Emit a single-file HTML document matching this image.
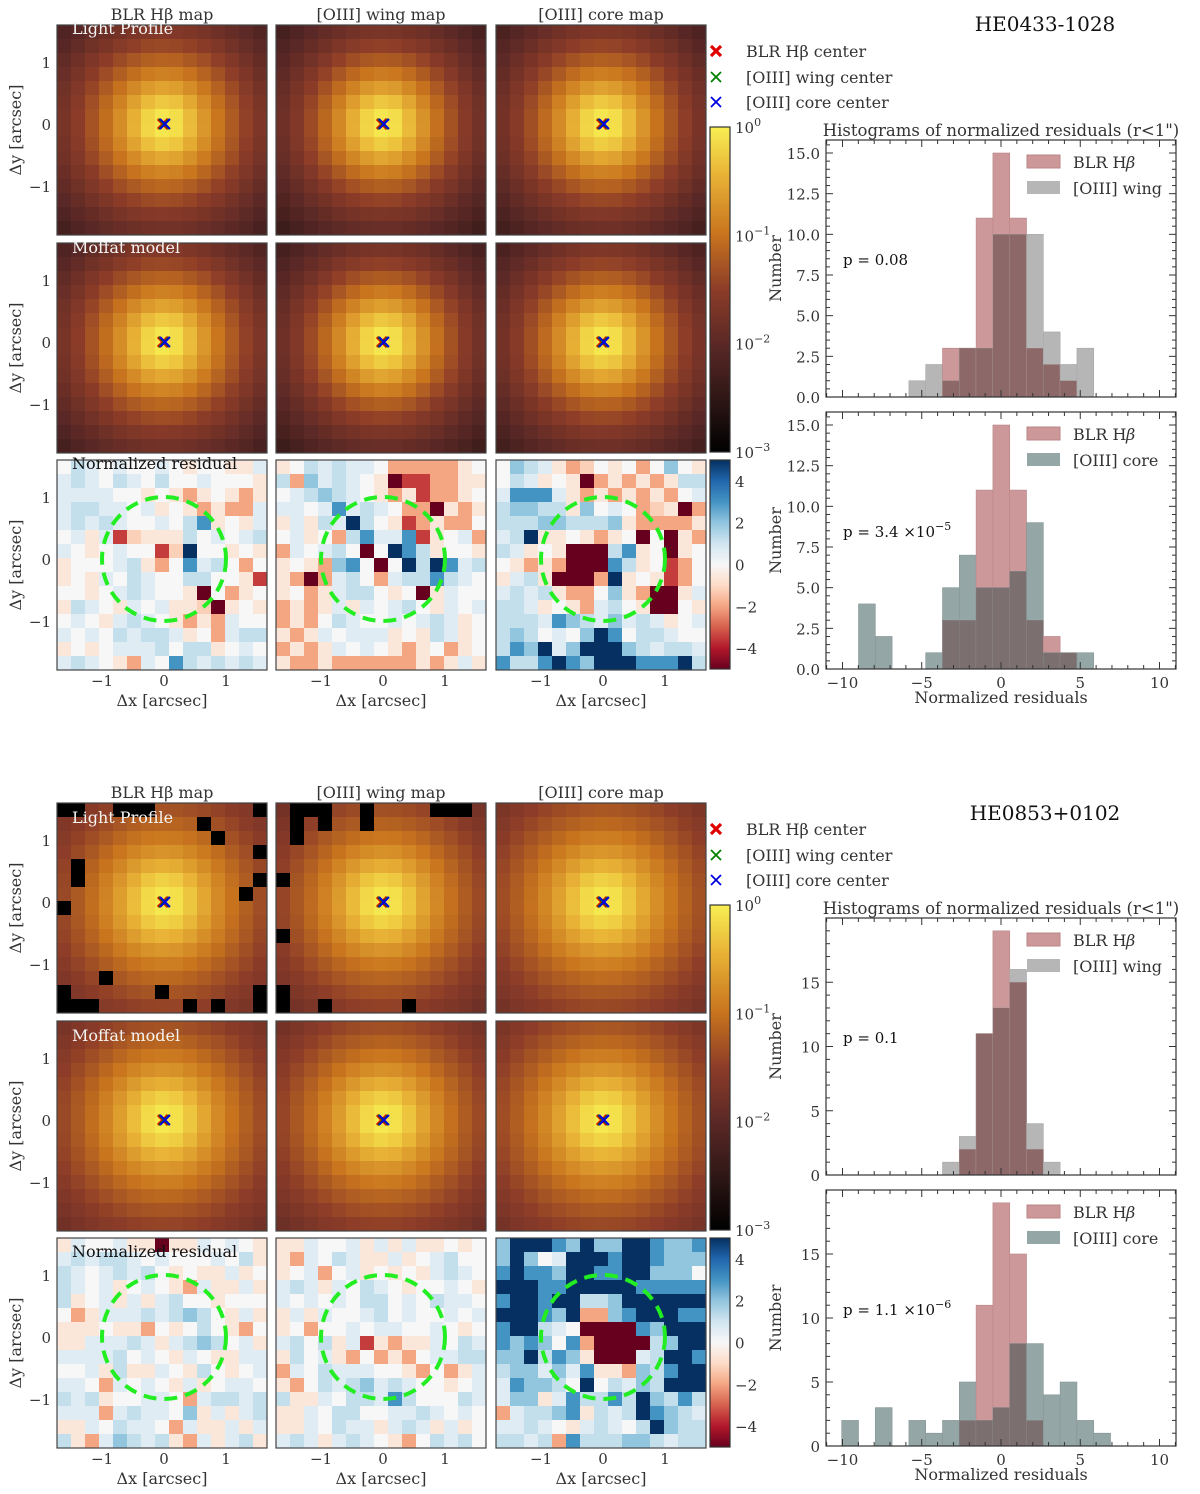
<!DOCTYPE html>
<html><head><meta charset="utf-8">
<style>
html,body{margin:0;padding:0;background:#fff;}
svg{display:block;font-family:"DejaVu Serif","Liberation Serif",serif;}
</style></head>
<body>
<svg id="fig" width="1200" height="1494" viewBox="0 0 1200 1494" xmlns="http://www.w3.org/2000/svg">
<defs>
<linearGradient id="lgLight" x1="0" y1="1" x2="0" y2="0">
<stop offset="0" stop-color="#000000"/><stop offset="0.15" stop-color="#2a1514"/><stop offset="0.33" stop-color="#5a2826"/><stop offset="0.5" stop-color="#8c3c28"/><stop offset="0.67" stop-color="#c8741e"/><stop offset="0.85" stop-color="#e8b236"/><stop offset="1" stop-color="#f8ee52"/>
</linearGradient>
<linearGradient id="lgRes" x1="0" y1="1" x2="0" y2="0">
<stop offset="0" stop-color="#67001f"/><stop offset="0.1" stop-color="#b2182b"/><stop offset="0.2" stop-color="#d6604d"/><stop offset="0.3" stop-color="#f4a582"/><stop offset="0.4" stop-color="#fddbc7"/><stop offset="0.5" stop-color="#f7f7f7"/><stop offset="0.6" stop-color="#d1e5f0"/><stop offset="0.7" stop-color="#92c5de"/><stop offset="0.8" stop-color="#4393c3"/><stop offset="0.9" stop-color="#2166ac"/><stop offset="1" stop-color="#053061"/>
</linearGradient>
</defs>
</svg>
<script>
// ---------------- DATA ----------------
const profTopBLR  = [0,-0.12,-0.40,-0.72,-1.00,-1.25,-1.48,-1.68,-1.86,-2.02,-2.18,-2.35];
const profTopWing = [0,-0.12,-0.42,-0.76,-1.06,-1.33,-1.57,-1.78,-1.96,-2.12,-2.28,-2.45];
const profTopCore = [0,-0.12,-0.41,-0.74,-1.03,-1.29,-1.52,-1.72,-1.90,-2.06,-2.22,-2.38];
const profBotBLR  = [0,-0.10,-0.32,-0.58,-0.82,-1.02,-1.20,-1.36,-1.50,-1.62,-1.74,-1.85];
const profBotWing = [0,-0.10,-0.33,-0.60,-0.84,-1.05,-1.23,-1.39,-1.53,-1.66,-1.78,-1.90];
const profBotCore = [0,-0.10,-0.31,-0.56,-0.79,-0.99,-1.17,-1.32,-1.46,-1.58,-1.70,-1.82];
const blackBotBLR  = [[0,0],[0,1],[0,4],[0,5],[0,6],[0,14],[1,10],[2,11],[3,14],[4,1],[5,1],[5,14],[6,13],[7,0],[12,3],[13,0],[13,7],[13,14],[14,0],[14,1],[14,2],[14,9],[14,11],[14,14]];
const blackBotWing = [[0,1],[0,2],[0,3],[0,6],[0,11],[0,12],[0,13],[1,1],[1,3],[1,6],[2,1],[5,0],[9,0],[13,0],[14,0],[14,3],[14,9]];
const resTopBLR = [".b+.+..+.-..--+","+b+.b+.b..+...-","++++..-.-o-.-o-","+bb++.+-.-o-oo+","+b+b+..+.bB-.-+",".+-+rp---b.+.+b","+.-.+..rpN..-.-","-...+b-o.B+b.o.","-.-+.b+..bb..-r","..-.+b+..-R.o-.","-b+.-+.+--pR-.-",".+.-+b+.-o-o+..","+.+.b+bb+-.o+bb","-.-.+++b.bb-.+.","+b+.-o+.Bb+b+b+"];
const resTopWing = ["-.b+b++.ooooo-.","boc+b+.-Rrroo--",".+bcb+.-o-roo-.","++.+B+b+.ooR-o-","-+-b+Nb.-ro-oo.",".+-.obB++Br-.+o","o+.+b.R.NBb-..-","-.-ocB.R.NbNB+b","-oRo+b.o+bbBb+.","-.o-+bb.-.R-+..","o-o-+-+.+b.-+.+","o-o.b+..+.+b+-.","-o-+.+++-.-b+-.","o-o-+.+.-o-.o-.","-oo-oooooo-o-+-"];
const resTopCore = [".cb+-op.-.o.c.-",".b+-.-Ro-o-o-bb","+BBB+-o-o-o-o.+","bccbb-c.+.op-Ro","bbbccbbbc-oooo-","+bN--.-o-.R.R-o","b+-.-RRRbB-.R-.",".-o-oRRRBb-.ro.","-+b-RRRoN-.-ro.","+b+b-oo.c-oRR-+","bb+-.-o+b.-RR.-","bbb+Bcb+c+b+-.+","bcb.+.cNB.bb+..","bBcN+cNNNcb+bb+","BbbBNBcNNNBBBNb"];
const resBotBLR = ["-+..+--R--+.+.-","+b+bb+.+...+.b-","b+.+b+b.-.--+-.","b+.+-.+.-o+--+-","b-.+-+-+b..-...",".o-+++b+bcb.-+-","---.--o.-.b.-o.","--+++b+-+bcb.+-","++++b.+.-+.--++","..+-b--+.-b.-.+","++.o+.+.-+-.++.","b+b-..++.o+bb+b","+++o+b++.c-+-+b","--+.b++.o+--+-+","b-o+cb+b-o+-+b-"];
const resBotWing = ["--+..+-+-+--.-.","-o+.b+--+-.+b..","-.+o.+-.-.-+b+.","+b+-+.b+.-..+.-","+.+.+.bb.+.b++.","-+-+..+b.+..+.+","-.o..+.++..+.-.","+b.b-+r-o--+.b+","-b.+-o.o-o.++bb","o+.b+++..-o.o-+","-o.b+bc+b+..-.+","b--+.bb+Bb...b+","--+.bb..++b+.+.","--+.b++-+b+-+-.","+b+-+b+.-o.b+b."];
const resBotCore = ["cNNNBcNccNNBccB","cNc.+NNNBNNBccc","BNBBcNNBBNNccc.","NNNBBNNNNNBBBBB","BNNBNNbbcNNNNNN","NNNBcNoocBNNNBB","BNNb+.RRRRBcNNN","BcBc.BoRRRRbcNN","ccNbBc-RRR+bNNB","bcc+c+B--ocbBNN","+Bccb.N.b+cbNNN","+cc-+BbbBbNcbBb","o+bbcB-b+bNBcb+","++b+.-+b+.bNcbb","bb+boBbbbccb+bb"];
const histBLR1  = [0,0,0,0,0,0,3,3,11,15,11,3,2,1,0,0,0,0,0,0];
const histWing1 = [0,0,0,0,1,2,1,3,3,10,10,10,4,2,3,0,0,0,0,0];
const histBLR2  = [0,0,0,0,0,0,3,3,11,15,11,3,2,1,0,0,0,0,0,0];
const histCore2 = [0,4,2,0,0,1,5,7,5,5,6,9,1,1,1,0,0,0,0,0];
const histBLR3  = [0,0,0,0,0,0,0,2,11,19,15,2,0,0,0,0,0,0,0,0];
const histWing3 = [0,0,0,0,0,0,1,3,11,13,16,4,1,0,0,0,0,0,0,0];
const histBLR4  = [0,0,0,0,0,0,0,2,11,19,15,2,0,0,0,0,0,0,0,0];
const histCore4 = [2,0,3,0,2,1,2,5,2,3,8,8,4,5,2,1,0,0,0,0];
const yTicksTop = ["0.0","2.5","5.0","7.5","10.0","12.5","15.0"];
const yTicksBot = ["0","5","10","15"];
const xTicksHist = ["−10","−5","0","5","10"];
const cbarLightLabels = ["0","−1","−2","−3"];
const cbarResLabels = ["4","2","0","−2","−4"];

// ---------------- RENDER ----------------
const NS="http://www.w3.org/2000/svg";
const svg=document.getElementById('fig');
function mk(tag,attrs,parent){const e=document.createElementNS(NS,tag);for(const k in attrs)e.setAttribute(k,attrs[k]);(parent||svg).appendChild(e);return e;}
function txt(s,x,y,size,anchor,parent,fill){const t=mk('text',{x:x,y:y,'font-size':size,'text-anchor':anchor||'start',fill:fill||'#333'},parent);t.textContent=s;return t;}
function hex(c){return [parseInt(c.substr(1,2),16),parseInt(c.substr(3,2),16),parseInt(c.substr(5,2),16)];}
function interp(stops,t){t=Math.max(0,Math.min(1,t));for(let i=1;i<stops.length;i++){if(t<=stops[i][0]){const a=stops[i-1],b=stops[i];const f=(t-a[0])/(b[0]-a[0]);const ca=hex(a[1]),cb=hex(b[1]);return 'rgb('+ca.map((v,j)=>Math.round(v+(cb[j]-v)*f)).join(',')+')';}}return stops[stops.length-1][1];}
const lightStops=[[0,'#000000'],[0.15,'#2a1514'],[0.33,'#5a2826'],[0.5,'#8c3c28'],[0.67,'#c8741e'],[0.85,'#e8b236'],[1,'#f8ee52']];
const resStops=[[0,'#67001f'],[0.1,'#b2182b'],[0.2,'#d6604d'],[0.3,'#f4a582'],[0.4,'#fddbc7'],[0.5,'#f7f7f7'],[0.6,'#d1e5f0'],[0.7,'#92c5de'],[0.8,'#4393c3'],[0.9,'#2166ac'],[1,'#053061']];
const resVal={'R':-5,'r':-3.5,'o':-2,'p':-1.2,'-':-0.6,'.':0,'+':0.6,'b':1.2,'c':2,'B':3,'N':5};

const colX=[57,276,496], PW=210, PH=210, NC=15, CS=14;
const rowY=[25,243,460];
const CX=107, CY=99, PXA=62;

function profVal(prof,r){const i=Math.floor(r);if(i>=prof.length-1)return prof[prof.length-1]+(r-(prof.length-1))*(prof[prof.length-1]-prof[prof.length-2]);const f=r-i;return prof[i]+(prof[i+1]-prof[i])*f;}

function lightMap(x0,y0,prof,blacks,name){
  const g=mk('g',{});
  
  
  const bset=new Set((blacks||[]).map(b=>b[0]+'_'+b[1]));
  for(let r=0;r<NC;r++)for(let c=0;c<NC;c++){
    const dx=(c*CS+CS/2-CX)/CS, dy=(r*CS+CS/2-CY)/CS;
    const lv=profVal(prof,Math.sqrt(dx*dx+dy*dy));
    const col=bset.has(r+'_'+c)?'#000':interp(lightStops,(lv+3)/3);
    const cell=mk('rect',{x:x0+c*CS,y:y0+r*CS,width:CS+0.5,height:CS+0.5,fill:col},g);
    
    
  }
  mk('rect',{x:x0,y:y0,width:PW,height:PH,fill:'none',stroke:'#444','stroke-width':1.2},g);
  const mx=x0+CX, my=y0+CY;
  [['#e00000',3],['#008000',2],['#0000e0',2]].forEach((m,i)=>{
    const o=[-1,0,1][i];
    const p=mk('path',{d:`M${mx-5+o} ${my-5}L${mx+5+o} ${my+5}M${mx+5+o} ${my-5}L${mx-5+o} ${my+5}`,stroke:m[0],'stroke-width':m[1]},g);
    
    
  });
  return g;
}
function resMap(x0,y0,rows,name){
  const g=mk('g',{});
  
  
  for(let r=0;r<NC;r++)for(let c=0;c<NC;c++){
    const v=resVal[rows[r][c]]||0;
    const cell=mk('rect',{x:x0+c*CS,y:y0+r*CS,width:CS+0.5,height:CS+0.5,fill:interp(resStops,(v+5)/10)},g);
    
    
  }
  const circ=mk('circle',{cx:x0+CX,cy:y0+CY,r:PXA,fill:'none',stroke:'#22ee22','stroke-width':4,'stroke-dasharray':'13 8'},g);
  
  
  mk('rect',{x:x0,y:y0,width:PW,height:PH,fill:'none',stroke:'#444','stroke-width':1.2},g);
  return g;
}

const blocks=[
 {off:0,name:'HE0433-1028',profs:[profTopBLR,profTopWing,profTopCore],blacks:[[],[],[]],res:[resTopBLR,resTopWing,resTopCore],
  h:[[histBLR1,histWing1,'[OIII] wing','p = 0.08',null],[histBLR2,histCore2,'[OIII] core','p = 3.4 ×10','−5']],ymax:15.8,yt:yTicksTop,ystep:2.5,yminor:0.5},
 {off:778,name:'HE0853+0102',profs:[profBotBLR,profBotWing,profBotCore],blacks:[blackBotBLR,blackBotWing,[]],res:[resBotBLR,resBotWing,resBotCore],
  h:[[histBLR3,histWing3,'[OIII] wing','p = 0.1',null],[histBLR4,histCore4,'[OIII] core','p = 1.1 ×10','−6']],ymax:20,yt:yTicksBot,ystep:5,yminor:1}
];
const colTitles=['BLR Hβ map','[OIII] wing map','[OIII] core map'];
const binStart=-10.05, binW=1.06;

blocks.forEach((B,bi)=>{
  const o=B.off;
  colTitles.forEach((t,i)=>{const e=txt(t,colX[i]+PW/2,o+20,16,'middle');});
  for(let i=0;i<3;i++){
    lightMap(colX[i],o+rowY[0],B.profs[i],B.blacks[i],'light-profile-map');
    lightMap(colX[i],o+rowY[1],B.profs[i],[],'moffat-model-map');
    resMap(colX[i],o+rowY[2],B.res[i],'residual-map');
  }
  txt('Light Profile',72,o+(bi?45:34),16,'start',null,'#f4f4f4');
  txt('Moffat model',72,o+rowY[1]+10+(bi?10:0),16,'start',null,'#f4f4f4');
  txt('Normalized residual',72,o+rowY[2]+9+(bi?10:0),16,'start',null,'#111');
  for(let rI=0;rI<3;rI++){
    const y0=o+rowY[rI];
    [1,0,-1].forEach(v=>{txt(v<0?'−1':String(v),51,y0+CY-v*PXA+6,15,'end');});
    const yl=mk('text',{x:0,y:0,'font-size':16,'text-anchor':'middle',fill:'#333',transform:`translate(21,${y0+CY+6}) rotate(-90)`});
    yl.textContent='Δy [arcsec]';
    
    
  }
  for(let i=0;i<3;i++){
    [-1,0,1].forEach(v=>txt(v<0?'−1':String(v),colX[i]+CX+v*PXA,o+686,15,'middle'));
    const xl=txt('Δx [arcsec]',colX[i]+PW/2,o+706,16,'middle');
    
    
  }
  const cb1=mk('rect',{x:710,y:o+127,width:20,height:325,fill:'url(#lgLight)',stroke:'#333','stroke-width':1.2});
  
  
  cbarLightLabels.forEach((l,i)=>{const y=o+127+i*325/3;const t=txt('10',735,y+6,15,'start');const s=mk('tspan',{dy:-7,'font-size':11},t);s.textContent=l;});
  const cb2=mk('rect',{x:710,y:o+460,width:20,height:209,fill:'url(#lgRes)',stroke:'#333','stroke-width':1.2});
  
  
  cbarResLabels.forEach((l,i)=>{const v=4-2*i;const y=o+564.5-v*20.9;txt(l,735,y+6,15,'start');});
  const lg=mk('g',{});
  
  
  [['#e00000',3.2,'BLR Hβ center',51],['#008000',1.8,'[OIII] wing center',77],['#0000e0',1.8,'[OIII] core center',102]].forEach(m=>{
    const y=o+m[3];
    mk('path',{d:`M711 ${y-5}L721 ${y+5}M721 ${y-5}L711 ${y+5}`,stroke:m[0],'stroke-width':m[1]},lg);
    txt(m[2],746,y+6,16,'start',lg);
  });
  const tt=txt(B.name,1045,o+(bi?42:31),20,'middle',null,'#111');
  
  
  txt('Histograms of normalized residuals (r<1")',1001,o+136,16.5,'middle');
  const HX0=826,HX1=1176,xmin=-11.04,xmax=11.04;
  const xs=v=>HX0+(v-xmin)/(xmax-xmin)*(HX1-HX0);
  const hy=[[o+140,o+397],[o+412,o+669]];
  if(bi===1){hy[0]=[918,1175];hy[1]=[1190,1446];}
  B.h.forEach((H,hi)=>{
    const [yt,yb]=hy[hi];
    const ys=v=>yb-v/B.ymax*(yb-yt);
    const g=mk('g',{});
    
    
    const isCore=H[2].indexOf('core')>=0;
    const cA='#cd9899', cB=isCore?'#95a6a6':'#b6b6b6', cO=isCore?'#7b6f6f':'#8c6868';
    const sA=H[0], sB=H[1];
    for(let k=0;k<sA.length;k++){
      const x0=xs(binStart+k*binW), w=xs(binStart+(k+1)*binW)-x0;
      const a=sA[k], b=sB[k], m=Math.min(a,b);
      if(a>0){const r=mk('rect',{x:x0,y:ys(a),width:w,height:ys(0)-ys(a),fill:cA,stroke:'#b98587','stroke-width':0.6},g);}
      if(b>0){const r=mk('rect',{x:x0,y:ys(b),width:w,height:ys(0)-ys(b),fill:cB,stroke:isCore?'#869696':'#a8a8a8','stroke-width':0.6},g);}
      if(m>0){const r=mk('rect',{x:x0,y:ys(m),width:w,height:ys(0)-ys(m),fill:cO},g);}
    }
    mk('rect',{x:HX0,y:yt,width:HX1-HX0,height:yb-yt,fill:'none',stroke:'#333','stroke-width':1.2},g);
    for(let v=-11;v<=11;v++){const major=v%5===0;const L=major?7:4;const x=xs(v);
      mk('line',{x1:x,x2:x,y1:yb,y2:yb-L,stroke:'#333','stroke-width':1},g);
      mk('line',{x1:x,x2:x,y1:yt,y2:yt+L,stroke:'#333','stroke-width':1},g);}
    if(hi===1){xTicksHist.forEach((l,i)=>txt(l,xs(-10+5*i),yb+19,15,'middle',g));
      const xl=txt('Normalized residuals',1001,yb+34,16,'middle',g);}
    for(let v=0;v<=B.ymax+1e-6;v+=B.yminor){const isMaj=Math.abs(v/B.ystep-Math.round(v/B.ystep))<1e-6;const L=isMaj?7:4;const y=ys(v);
      mk('line',{x1:HX0,x2:HX0+L,y1:y,y2:y,stroke:'#333','stroke-width':1},g);
      mk('line',{x1:HX1,x2:HX1-L,y1:y,y2:y,stroke:'#333','stroke-width':1},g);}
    B.yt.forEach((l,i)=>{const v=i*B.ystep;if(v<=B.ymax)txt(l,820,ys(v)+6,15,'end',g);});
    const yl=mk('text',{x:0,y:0,'font-size':16,'text-anchor':'middle',fill:'#333',transform:`translate(781,${(yt+yb)/2}) rotate(-90)`},g);
    yl.textContent='Number';
    
    
    const ly=yt+25;
    mk('rect',{x:1027,y:ly-10,width:33,height:13,fill:cA,stroke:'#b98587'},g);
    txt('BLR H',1073,ly+3,16,'start',g);
    const bt=txt('β',1126,ly+3,16,'start',g);bt.setAttribute('font-style','italic');
    mk('rect',{x:1027,y:ly+16,width:33,height:13,fill:cB},g);
    txt(H[2],1073,ly+29,16,'start',g);
    const pt=txt(H[3],843,yt+125,15,'start',g,'#111');
    if(H[4]){const s=mk('tspan',{dy:-7,'font-size':11},pt);s.textContent=H[4];}
    
    
  });
});
</script>
</body></html>
